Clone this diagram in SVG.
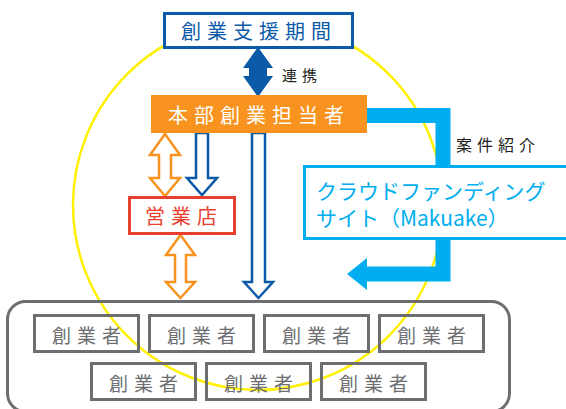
<svg xmlns="http://www.w3.org/2000/svg" width="566" height="409" viewBox="0 0 566 409">
<style>
text{font-family:"Noto Sans CJK JP","Noto Sans",sans-serif;}
.db{fill:#0b5aa8;}
.hb{fill:#fff;stroke:#0b5aa8;stroke-width:2.5;stroke-linejoin:miter;}
.ho{fill:#fff;stroke:#f7931e;stroke-width:2.5;stroke-linejoin:miter;}
.founder rect{fill:none;stroke:#6d6e71;stroke-width:3;}
.founder text{fill:#6d6e71;font-size:19px;letter-spacing:6px;text-anchor:middle;}
.lbl{fill:#231f20;font-size:15px;letter-spacing:5px;}
</style>
<rect width="566" height="409" fill="#fff"/>
<circle id="ring" cx="258" cy="205" r="185" fill="none" stroke="#fff100" stroke-width="2.5"/>

<g id="connectors">
  <polygon class="db" points="258,47 273,68 267,68 267,76 273,76 258,97 243,76 249,76 249,68 243,68"/>
  <polygon class="ho" points="165,134 180,155 171,155 171,178 180,178 165,196 150,178 159,178 159,155 150,155"/>
  <polygon class="ho" points="180.5,235 195,255 186,255 186,282 195,282 180.5,298 166,282 175,282 175,255 166,255"/>
  <polygon class="hb" points="196,133 208,133 208,178 217,178 202,195 187,178 196,178"/>
  <polygon class="hb" points="252,133 265,133 265,282 273,282 258.5,298 244,282 252,282"/>
  <path d="M366,115.5 H443 V274 H366" fill="none" stroke="#00aeef" stroke-width="15" stroke-linejoin="miter"/>
  <polygon points="347,274 367,258 367,290" fill="#00aeef"/>
</g>

<g id="label-renkei"><text class="lbl" x="282" y="81">連携</text></g>
<g id="label-anken"><text class="lbl" x="456" y="151" style="font-size:16px">案件紹介</text></g>

<g id="node-support">
  <rect x="164.5" y="13.5" width="188" height="34" fill="#fff" stroke="#0b5aa8" stroke-width="3"/>
  <text x="259" y="39" fill="#0b5aa8" font-size="20" letter-spacing="6" text-anchor="middle">創業支援期間</text>
</g>

<g id="node-hq">
  <rect x="151" y="95" width="216" height="38" fill="#f7931e"/>
  <text x="259" y="123" fill="#fff" font-size="20" letter-spacing="6" text-anchor="middle">本部創業担当者</text>
</g>

<g id="node-branch">
  <rect x="129.5" y="197.5" width="105" height="36" fill="#fff" stroke="#e8402f" stroke-width="3"/>
  <text x="184" y="224" fill="#e8402f" font-size="20" letter-spacing="6" text-anchor="middle">営業店</text>
</g>

<g id="node-crowdfunding">
  <rect x="304.5" y="166.5" width="266" height="72" fill="#fff" stroke="#00aeef" stroke-width="3"/>
  <text x="316" y="199" fill="#00aeef" font-size="21">クラウドファンディング</text>
  <text x="316" y="226" fill="#00aeef" font-size="21">サイト（Makuake）</text>
</g>

<g id="node-founders">
  <rect x="7.5" y="301.5" width="502" height="110" rx="18" fill="none" stroke="#6d6e71" stroke-width="3"/>
</g>
<g id="founder-1" class="founder"><rect x="34.5" y="315.5" width="104" height="36"/><text x="89.5" y="343">創業者</text></g>
<g id="founder-2" class="founder"><rect x="149.5" y="315.5" width="104" height="36"/><text x="204.5" y="343">創業者</text></g>
<g id="founder-3" class="founder"><rect x="264.5" y="315.5" width="104" height="36"/><text x="319.5" y="343">創業者</text></g>
<g id="founder-4" class="founder"><rect x="379.5" y="315.5" width="104" height="36"/><text x="434.5" y="343">創業者</text></g>
<g id="founder-5" class="founder"><rect x="91.5" y="363.5" width="104" height="36"/><text x="146.5" y="391">創業者</text></g>
<g id="founder-6" class="founder"><rect x="206.5" y="363.5" width="104" height="36"/><text x="261.5" y="391">創業者</text></g>
<g id="founder-7" class="founder"><rect x="321.5" y="363.5" width="104" height="36"/><text x="376.5" y="391">創業者</text></g>
</svg>
